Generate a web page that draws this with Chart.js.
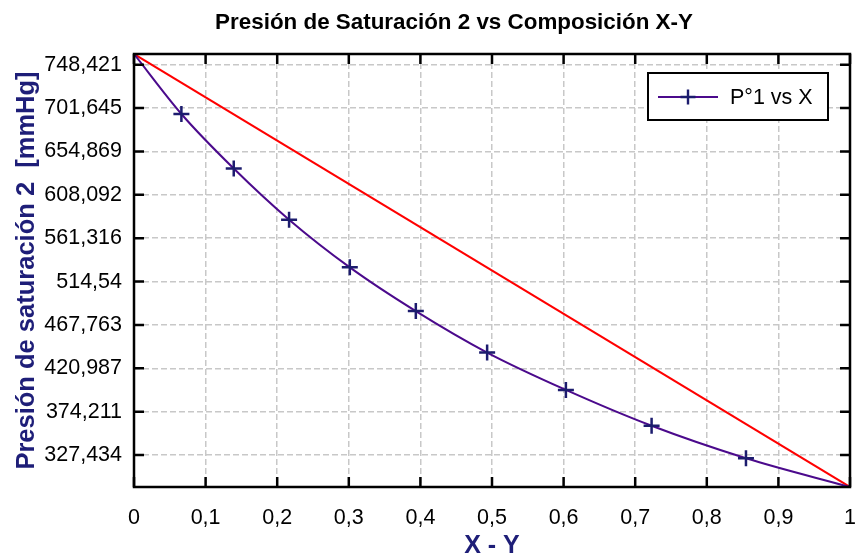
<!DOCTYPE html>
<html lang="es">
<head>
<meta charset="utf-8">
<script src="https://cdn.jsdelivr.net/npm/chart.js@4.4.1/dist/chart.umd.min.js"></script>
<style>
html, body { margin: 0; padding: 0; background: #fff; }
#contenedor { width: 855px; height: 559px; }
</style>
</head>
<body>
<div id="contenedor"><canvas id="graficoPresion"></canvas></div>
<script>
// Datos
const composicionX = [0, 0.0662, 0.1393, 0.2166, 0.3014, 0.3936, 0.4932, 0.6032, 0.7229, 0.8547, 1];
const presionP1 = [760.0, 695.3, 636.5, 581.3, 529.9, 482.7, 438.0, 397.7, 359.0, 324.0, 293.0];
const rectaX = [0, 1];
const rectaP = [760.0, 293.0];
const ticksY = [327.434, 374.211, 420.987, 467.763, 514.54, 561.316, 608.092, 654.869, 701.645, 748.421];
const etiquetasY = ['327,434', '374,211', '420,987', '467,763', '514,54', '561,316', '608,092', '654,869', '701,645', '748,421'];
const ticksX = [0, 0.1, 0.2, 0.3, 0.4, 0.5, 0.6, 0.7, 0.8, 0.9, 1];
const etiquetasX = ['0', '0,1', '0,2', '0,3', '0,4', '0,5', '0,6', '0,7', '0,8', '0,9', '1'];
const titulo = 'Presión de Saturación 2 vs Composición X-Y';

const fuente = "'Liberation Sans', Arial, sans-serif";
const colorCurva = '#4b0a8c';
const colorMarca = '#1c1c6e';
const colorTitulo = '#1e1e78';
Chart.defaults.font.family = fuente;

// Título, marco, ticks hacia dentro y leyenda
const marco = {
    id: 'marco',
    afterDraw(chart) {
        const { ctx, chartArea: a, scales: { x, y } } = chart;
        ctx.save();
        ctx.fillStyle = '#000';
        ctx.font = 'bold 22.4px ' + fuente;
        ctx.textAlign = 'center';
        ctx.textBaseline = 'middle';
        ctx.fillText(titulo, 454, 23);

        ctx.strokeStyle = '#000';
        ctx.lineWidth = 2.5;
        ctx.beginPath();
        ticksX.forEach(v => {
            const px = x.getPixelForValue(v);
            ctx.moveTo(px, a.top); ctx.lineTo(px, a.top + 10);
            ctx.moveTo(px, a.bottom); ctx.lineTo(px, a.bottom - 10);
        });
        ticksY.forEach(v => {
            const py = y.getPixelForValue(v);
            ctx.moveTo(a.left, py); ctx.lineTo(a.left + 10, py);
            ctx.moveTo(a.right, py); ctx.lineTo(a.right - 10, py);
        });
        ctx.stroke();
        ctx.strokeRect(a.left, a.top, a.right - a.left, a.bottom - a.top);

        // leyenda
        const lx = a.right - 202, ly = a.top + 19, lw = 180, lh = 47;
        ctx.fillStyle = '#fff';
        ctx.fillRect(lx, ly, lw, lh);
        ctx.lineWidth = 2;
        ctx.strokeRect(lx, ly, lw, lh);
        const cy = ly + 24;
        ctx.strokeStyle = colorCurva;
        ctx.beginPath();
        ctx.moveTo(lx + 10, cy); ctx.lineTo(lx + 70, cy);
        ctx.stroke();
        ctx.strokeStyle = colorMarca;
        ctx.lineWidth = 2.4;
        ctx.beginPath();
        ctx.moveTo(lx + 40, cy - 7.5); ctx.lineTo(lx + 40, cy + 7.5);
        ctx.moveTo(lx + 32.5, cy); ctx.lineTo(lx + 47.5, cy);
        ctx.stroke();
        ctx.fillStyle = '#000';
        ctx.font = '21.5px ' + fuente;
        ctx.textAlign = 'left';
        ctx.fillText('P°1 vs X', lx + 82, cy + 1);
        ctx.restore();
    }
};

const ctx = document.getElementById('graficoPresion').getContext('2d');
const grafico = new Chart(ctx, {
    type: 'line',
    data: {
        datasets: [{
            label: 'P°1 vs X',
            data: composicionX.map((v, i) => ({ x: v, y: presionP1[i] })),
            borderColor: colorCurva,
            borderWidth: 2,
            cubicInterpolationMode: 'monotone',
            pointStyle: 'cross',
            pointRadius: composicionX.map((v, i) => (i === 0 || i === composicionX.length - 1) ? 0 : 8),
            pointBorderColor: colorMarca,
            pointBorderWidth: 2.5,
            fill: false
        }, {
            label: 'Ideal',
            data: rectaX.map((v, i) => ({ x: v, y: rectaP[i] })),
            borderColor: '#ff0000',
            borderWidth: 2,
            pointRadius: 0,
            fill: false
        }]
    },
    options: {
        responsive: true,
        maintainAspectRatio: false,
        animation: false,
        layout: { padding: { left: 0, right: 5, top: 54, bottom: 0 } },
        plugins: {
            legend: { display: false },
            tooltip: { enabled: false },
            title: { display: false }
        },
        scales: {
            x: {
                type: 'linear',
                min: 0,
                max: 1,
                afterBuildTicks: s => { s.ticks = ticksX.map(v => ({ value: v })); },
                afterFit: s => { s.height = 72; s.paddingLeft = 0; s.paddingRight = 0; },
                ticks: {
                    autoSkip: false,
                    maxRotation: 0,
                    padding: 18,
                    color: '#000',
                    font: { size: 21.5 },
                    callback: (v, i) => etiquetasX[i]
                },
                grid: { color: '#c8c8c8', lineWidth: 1.5, drawTicks: false },
                border: { display: false, dash: [6, 3] },
                title: {
                    display: true,
                    text: 'X - Y',
                    color: colorTitulo,
                    font: { size: 25, weight: 'bold', lineHeight: 1 },
                    padding: { top: 0, bottom: 0 }
                }
            },
            y: {
                type: 'linear',
                min: rectaP[1],
                max: rectaP[0],
                afterBuildTicks: s => { s.ticks = ticksY.map(v => ({ value: v })); },
                afterFit: s => { s.width = 134; s.paddingTop = 0; s.paddingBottom = 0; },
                ticks: {
                    padding: 12,
                    color: '#000',
                    font: { size: 21.5 },
                    callback: (v, i) => etiquetasY[i]
                },
                grid: { color: '#c8c8c8', lineWidth: 1.5, drawTicks: false },
                border: { display: false, dash: [6, 3] },
                title: {
                    display: true,
                    text: 'Presión de saturación 2  [mmHg]',
                    color: colorTitulo,
                    font: { size: 25.5, weight: 'bold', lineHeight: 1.2 },
                    padding: { top: 12, bottom: 0 }
                }
            }
        }
    },
    plugins: [marco]
});
</script>
</body>
</html>
